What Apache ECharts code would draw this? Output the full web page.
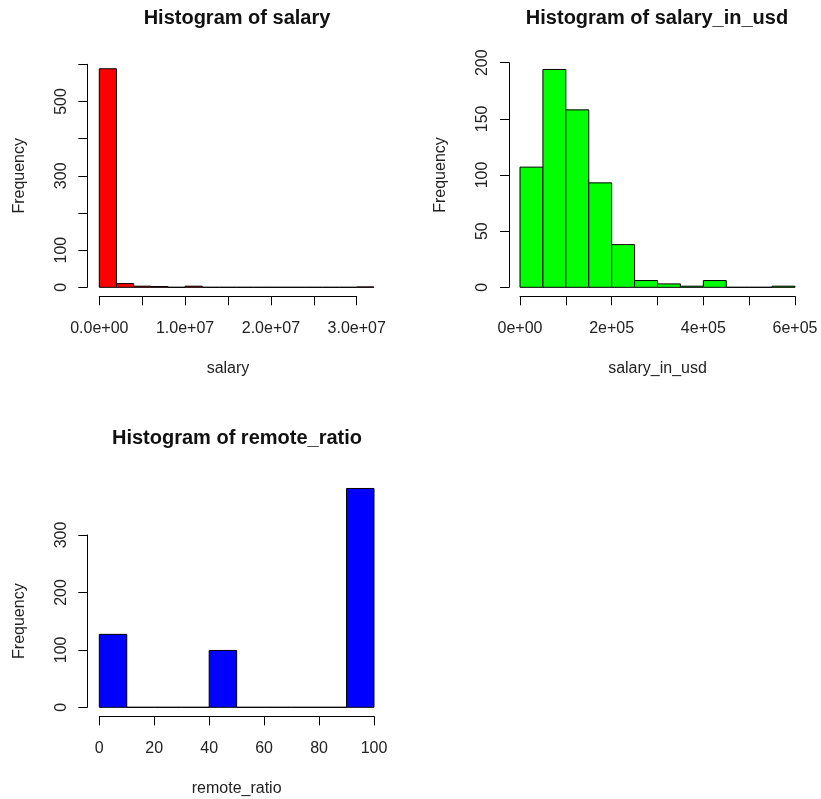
<!DOCTYPE html>
<html>
<head>
<meta charset="utf-8">
<script src="https://cdn.jsdelivr.net/npm/echarts@6/dist/echarts.min.js"></script>
<style>
  html, body { margin: 0; padding: 0; background: #fff; }
  #chart { width: 821px; height: 799px; }
</style>
</head>
<body>
<div id="chart"></div>
<script>
// salary (local currency), bins of 2e6
const salaryBreaks = [0, 2e6, 4e6, 6e6, 8e6, 10e6, 12e6, 14e6, 16e6, 18e6, 20e6, 22e6, 24e6, 26e6, 28e6, 30e6, 32e6];
const salaryCounts = [588, 10, 3, 2, 0, 3, 0, 0, 0, 0, 0, 0, 0, 0, 0, 1];
const salaryLabelTicks = [0, 1e7, 2e7, 3e7];

// salary_in_usd, bins of 5e4
const usdBreaks = [0, 5e4, 1e5, 1.5e5, 2e5, 2.5e5, 3e5, 3.5e5, 4e5, 4.5e5, 5e5, 5.5e5, 6e5];
const usdCounts = [107, 194, 158, 93, 38, 6, 3, 1, 6, 0, 0, 1];
const usdLabelTicks = [0, 2e5, 4e5, 6e5];

// remote_ratio, bins of 10
const remoteBreaks = [0, 10, 20, 30, 40, 50, 60, 70, 80, 90, 100];
const remoteCounts = [127, 0, 0, 0, 99, 0, 0, 0, 0, 381];
const remoteLabelTicks = [0, 20, 40, 60, 80, 100];

const salaryYLabels = [0, 100, 300, 500];
const usdYLabels = [0, 50, 100, 150, 200];
const remoteYLabels = [0, 100, 200, 300];

const FONT = "'Liberation Sans', Arial, sans-serif";
const TEXT = '#222';

// R style scientific label, e.g. 1.0e+07
function sci(v, digits) {
  if (v === 0) return (0).toFixed(digits) + 'e+00';
  let exp = Math.floor(Math.log10(Math.abs(v)));
  let mant = (v / Math.pow(10, exp)).toFixed(digits);
  let sign = exp < 0 ? '-' : '+';
  let e = String(Math.abs(exp)).padStart(2, '0');
  return mant + 'e' + sign + e;
}

function binData(breaks, counts) {
  return counts.map((c, i) => [breaks[i], breaks[i + 1], c]);
}

function histSeries(idx, breaks, counts, color) {
  return {
    type: 'custom',
    xAxisIndex: idx,
    yAxisIndex: idx,
    clip: false,
    silent: true,
    encode: { x: [0, 1], y: 2 },
    data: binData(breaks, counts),
    renderItem: function (params, api) {
      const p0 = api.coord([api.value(0), api.value(2)]);
      const p1 = api.coord([api.value(1), 0]);
      return {
        type: 'rect',
        shape: { x: p0[0], y: p0[1], width: p1[0] - p0[0], height: p1[1] - p0[1] },
        style: { fill: color, stroke: '#000', lineWidth: 1 }
      };
    }
  };
}

function xAxis(idx, max, interval, labelTicks, fmt, name, offset) {
  return {
    type: 'value', gridIndex: idx, min: 0, max: max, interval: interval,
    offset: offset,
    name: name, nameLocation: 'middle', nameGap: 64,
    nameTextStyle: { fontFamily: FONT, fontSize: 16, color: TEXT },
    splitLine: { show: false },
    axisLine: { show: true, onZero: false, lineStyle: { color: '#000', width: 1 } },
    axisTick: { show: true, length: 9, lineStyle: { color: '#000' } },
    axisLabel: {
      margin: 24, fontFamily: FONT, fontSize: 16, color: TEXT, showMinLabel: true, showMaxLabel: true,
      formatter: v => labelTicks.includes(v) ? fmt(v) : ''
    }
  };
}

function yAxis(idx, max, interval, labels, offset) {
  return {
    type: 'value', gridIndex: idx, min: 0, max: max, interval: interval,
    offset: offset,
    name: 'Frequency', nameLocation: 'middle', nameGap: 60,
    nameTextStyle: { fontFamily: FONT, fontSize: 16, color: TEXT },
    splitLine: { show: false },
    axisLine: { show: true, onZero: false, lineStyle: { color: '#000', width: 1 } },
    axisTick: { show: true, length: 9, lineStyle: { color: '#000' } },
    axisLabel: {
      rotate: 90, margin: 18, fontFamily: FONT, fontSize: 16, color: TEXT,
      formatter: v => labels.includes(v) ? String(v) : ''
    }
  };
}

const chart = echarts.init(document.getElementById('chart'));
chart.setOption({
  animation: false,
  backgroundColor: '#fff',
  graphic: [
    { type: 'text', x: 237, y: 18.7, style: { text: 'Histogram of salary', textAlign: 'center', textVerticalAlign: 'middle', font: 'bold 20px ' + FONT, fill: '#111' } },
    { type: 'text', x: 657, y: 18.7, style: { text: 'Histogram of salary_in_usd', textAlign: 'center', textVerticalAlign: 'middle', font: 'bold 20px ' + FONT, fill: '#111' } },
    { type: 'text', x: 237, y: 438.7, style: { text: 'Histogram of remote_ratio', textAlign: 'center', textVerticalAlign: 'middle', font: 'bold 20px ' + FONT, fill: '#111' } }
  ],
  grid: [
    { left: 99.3, top: 64.3, width: 257.4, height: 223 },
    { left: 520, top: 62.7, width: 275, height: 224.6 },
    { left: 99.3, top: 535, width: 274.7, height: 172.3 }
  ],
  xAxis: [
    xAxis(0, 3e7, 5e6, salaryLabelTicks, v => sci(v, 1), 'salary', 9),
    xAxis(1, 6e5, 1e5, usdLabelTicks, v => sci(v, 0), 'salary_in_usd', 9),
    xAxis(2, 100, 20, remoteLabelTicks, v => String(v), 'remote_ratio', 9)
  ],
  yAxis: [
    yAxis(0, 600, 100, salaryYLabels, 12),
    yAxis(1, 200, 50, usdYLabels, 11),
    yAxis(2, 300, 100, remoteYLabels, 12)
  ],
  series: [
    histSeries(0, salaryBreaks, salaryCounts, '#ff0000'),
    histSeries(1, usdBreaks, usdCounts, '#00ff00'),
    histSeries(2, remoteBreaks, remoteCounts, '#0000ff')
  ]
});
</script>
</body>
</html>
